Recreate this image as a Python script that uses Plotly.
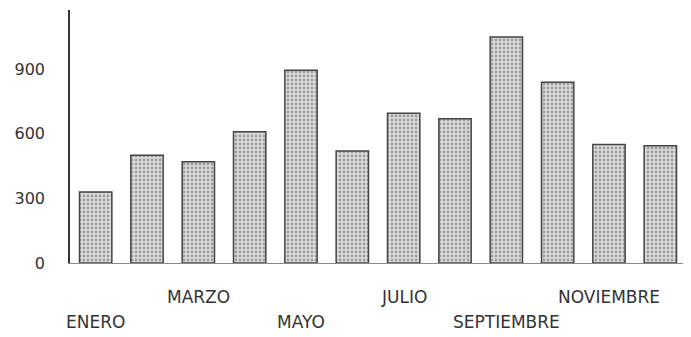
import plotly.graph_objects as go

meses = ['ENERO', 'FEBRERO', 'MARZO', 'ABRIL', 'MAYO', 'JUNIO', 'JULIO',
         'AGOSTO', 'SEPTIEMBRE', 'OCTUBRE', 'NOVIEMBRE', 'DICIEMBRE']
valores = [330, 500, 470, 610, 895, 520, 695, 670, 1050, 840, 550, 545]
y_ticks = [0, 300, 600, 900]

# only odd months are labelled, alternating between two rows
fila_alta = ['MARZO', 'JULIO', 'NOVIEMBRE']
fila_baja = ['ENERO', 'MAYO', 'SEPTIEMBRE']

fuente = dict(family='DejaVu Sans', size=16, color='#333333')
fuente_mes = dict(family='DejaVu Sans', size=17, color='#333333')

fig = go.Figure(go.Bar(
    x=meses,
    y=valores,
    width=0.63,
    marker=dict(
        color='#d8d8d8',
        line=dict(color='#444444', width=1.5),
        pattern=dict(shape='.', fgcolor='#5a5a5a', bgcolor='#dedede',
                     size=4, solidity=0.4),
    ),
))

for m in fila_alta:
    fig.add_annotation(x=m, y=0, xref='x', yref='paper', yshift=-34,
                       text=m, showarrow=False, font=fuente_mes, yanchor='middle')
for m in fila_baja:
    fig.add_annotation(x=m, y=0, xref='x', yref='paper', yshift=-59,
                       text=m, showarrow=False, font=fuente_mes, yanchor='middle')

# the page body adds 8px around the figure, so the figure is a bit smaller
fig.update_layout(
    width=683, height=329,
    margin=dict(l=62, r=5, t=2, b=74),
    paper_bgcolor='white', plot_bgcolor='white',
    showlegend=False,
    font=fuente,
)
fig.update_xaxes(showticklabels=False, ticks='', showgrid=False,
                 showline=True, linecolor='#8a8a8a', linewidth=1,
                 range=[-0.5, 11.5])
fig.update_yaxes(range=[0, 1175], tickvals=y_ticks, showgrid=False,
                 zeroline=False, showline=True, linecolor='#333333',
                 linewidth=1.5, ticks='', ticklabelstandoff=20,
                 tickfont=fuente)

fig.write_html("out.html")
